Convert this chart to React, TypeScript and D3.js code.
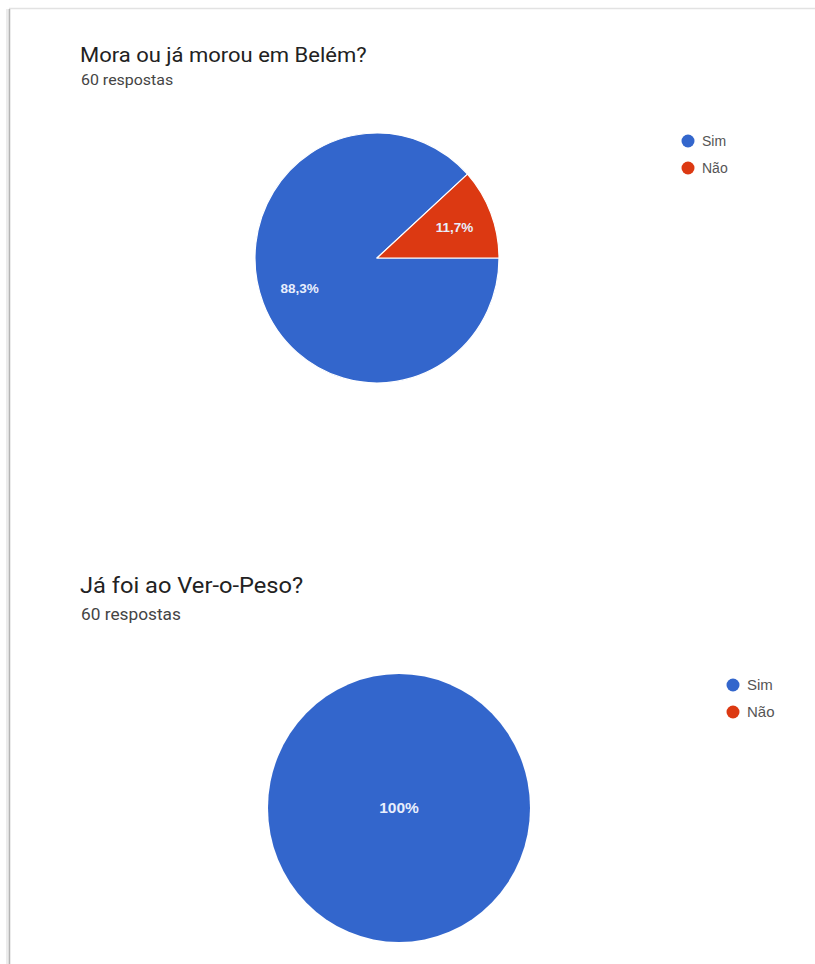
import * as d3 from 'd3'

// Survey data (Google Forms summary)
const questions = ['Mora ou já morou em Belém?', 'Já foi ao Ver-o-Peso?']
const responseCounts = [60, 60]
const categories = ['Sim', 'Não']
const belemValues = [88.3, 11.7]
const veroPesoValues = [100, 0]
const colors = ['#3366cc', '#dc3912']

const W = 815
const H = 964
// the screenshot is slightly stretched horizontally
const STRETCH = 1.1

interface PanelLayout {
  titleY: number
  subY: number
  titleSize: number
  subSize: number
  labelSize: number
  legendSize: number
  cx: number
  cy: number
  rx: number
  ry: number
  legendX: number
  legendY: number
}

// the two screenshots were pasted at slightly different zoom levels
const layouts: PanelLayout[] = [
  { titleY: 62, subY: 85, titleSize: 20, subSize: 14.5, labelSize: 13.5, legendSize: 14,
    cx: 377, cy: 258, rx: 122, ry: 125, legendX: 688, legendY: 141 },
  { titleY: 593, subY: 620, titleSize: 21.5, subSize: 15.7, labelSize: 15.5, legendSize: 15,
    cx: 399, cy: 808, rx: 131, ry: 134, legendX: 733, legendY: 685 },
]

const fmt = (v: number) => {
  const s = d3.format('.1f')(v).replace('.', ',')
  return (s.endsWith(',0') ? s.slice(0, -2) : s) + '%'
}

function PiePanel({ title, count, values, layout }: {
  title: string
  count: number
  values: number[]
  layout: PanelLayout
}) {
  const data = categories.map((c, i) => ({ name: c, value: values[i], color: colors[i] }))
  const pie = d3.pie<typeof data[0]>()
    .value(d => d.value)
    .sort(null)
    .startAngle(Math.PI / 2)
    .endAngle(Math.PI / 2 + 2 * Math.PI)
  const arcs = pie(data).filter(a => a.data.value > 0)
  const r = layout.rx
  const sy = layout.ry / layout.rx
  const arc = d3.arc<d3.PieArcDatum<typeof data[0]>>().innerRadius(0).outerRadius(r)
  const labelArc = d3.arc<d3.PieArcDatum<typeof data[0]>>().innerRadius(r * 0.68).outerRadius(r * 0.68)
  const single = arcs.length === 1

  return (
    <g>
      <text transform={`translate(80,${layout.titleY}) scale(${STRETCH},1)`} fontSize={layout.titleSize}
        fill="#222" fontFamily="Roboto, sans-serif">{title}</text>
      <text transform={`translate(81,${layout.subY}) scale(${STRETCH},1)`} fontSize={layout.subSize}
        fill="#444" fontFamily="Roboto, sans-serif">{count} respostas</text>
      <g transform={`translate(${layout.cx},${layout.cy}) scale(1,${sy})`}>
        {arcs.map(a => (
          <path key={a.data.name} d={arc(a) || ''} fill={a.data.color}
            stroke="#fff" strokeWidth={single ? 0 : 1.2} strokeLinejoin="round" />
        ))}
      </g>
      {arcs.map(a => {
        const [lx, ly] = single ? [0, 0] : labelArc.centroid(a)
        return (
          <text key={a.data.name + 'l'} x={layout.cx + lx} y={layout.cy + ly * sy} dy="0.35em"
            textAnchor="middle" fontSize={layout.labelSize} fontWeight="bold" fill="#e8eefc"
            fontFamily="Arial, 'Liberation Sans', sans-serif">
            {fmt(a.data.value)}
          </text>
        )
      })}
      {data.map((d, i) => (
        <g key={d.name} transform={`translate(${layout.legendX},${layout.legendY + i * 27})`}>
          <circle r={6.5} fill={d.color} />
          <text x={14} dy="0.35em" fontSize={layout.legendSize} fill="#555"
            fontFamily="Arial, 'Liberation Sans', sans-serif">{d.name}</text>
        </g>
      ))}
    </g>
  )
}

export default function App() {
  const panelValues = [belemValues, veroPesoValues]
  return (
    <svg width={W} height={H} style={{ position: 'absolute', left: 0, top: 0, background: '#fff' }}>
      <rect x={0} y={0} width={W} height={H} fill="#fff" />
      {/* card edge with a soft shadow on the left */}
      <line x1={9} y1={8.5} x2={W} y2={8.5} stroke="#e2e2e2" strokeWidth={1.5} />
      <line x1={7.5} y1={9} x2={7.5} y2={H} stroke="#ececec" strokeWidth={3} />
      <line x1={9.5} y1={9} x2={9.5} y2={H} stroke="#b5b5b5" strokeWidth={1.5} />
      {questions.map((q, i) => (
        <PiePanel key={q} title={q} count={responseCounts[i]} values={panelValues[i]} layout={layouts[i]} />
      ))}
    </svg>
  )
}
